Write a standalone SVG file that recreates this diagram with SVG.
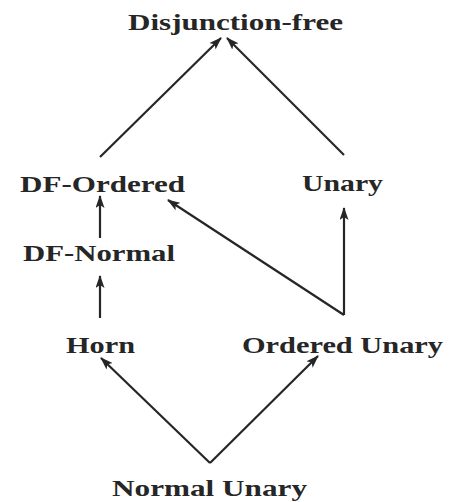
<svg xmlns="http://www.w3.org/2000/svg" width="460" height="502" viewBox="0 0 460 502">
  <style>
    .lbl { font-family: "Liberation Serif", "DejaVu Serif", serif; font-weight: bold; font-size: 24px; fill: #262626; }
    .edge { stroke: #262626; stroke-width: 2.2; fill: none; marker-end: url(#head); }
  </style>
  <defs>
    <marker id="head" viewBox="0 0 13 9" refX="12" refY="4.5" markerWidth="13" markerHeight="9" markerUnits="userSpaceOnUse" orient="auto">
      <path d="M0,0 L13,4.5 L0,9 L3,4.5 z" fill="#262626"/>
    </marker>
  </defs>
  <rect width="460" height="502" fill="#ffffff"/>

  <g id="connectors">
    <line class="edge" x1="100" y1="157" x2="221" y2="38"/>
    <line class="edge" x1="344" y1="155" x2="227" y2="38"/>
    <line class="edge" x1="100" y1="238" x2="100" y2="196"/>
    <line class="edge" x1="100" y1="318" x2="100" y2="276"/>
    <line class="edge" x1="344" y1="315" x2="344" y2="208"/>
    <line class="edge" x1="344" y1="315" x2="168" y2="200"/>
    <line class="edge" x1="210" y1="463" x2="101" y2="358"/>
    <line class="edge" x1="210" y1="463" x2="318" y2="356"/>
  </g>

  <g id="disjunction-free"><text class="lbl" x="128" y="30" textLength="215" lengthAdjust="spacingAndGlyphs">Disjunction-free</text></g>
  <g id="df-ordered"><text class="lbl" x="20" y="192" textLength="165" lengthAdjust="spacingAndGlyphs">DF-Ordered</text></g>
  <g id="unary"><text class="lbl" x="302" y="191" textLength="81" lengthAdjust="spacingAndGlyphs">Unary</text></g>
  <g id="df-normal"><text class="lbl" x="23" y="261" textLength="152" lengthAdjust="spacingAndGlyphs">DF-Normal</text></g>
  <g id="horn"><text class="lbl" x="66" y="353" textLength="69" lengthAdjust="spacingAndGlyphs">Horn</text></g>
  <g id="ordered-unary"><text class="lbl" x="242" y="353" textLength="201" lengthAdjust="spacingAndGlyphs">Ordered Unary</text></g>
  <g id="normal-unary"><text class="lbl" x="112" y="496" textLength="195" lengthAdjust="spacingAndGlyphs">Normal Unary</text></g>
</svg>
